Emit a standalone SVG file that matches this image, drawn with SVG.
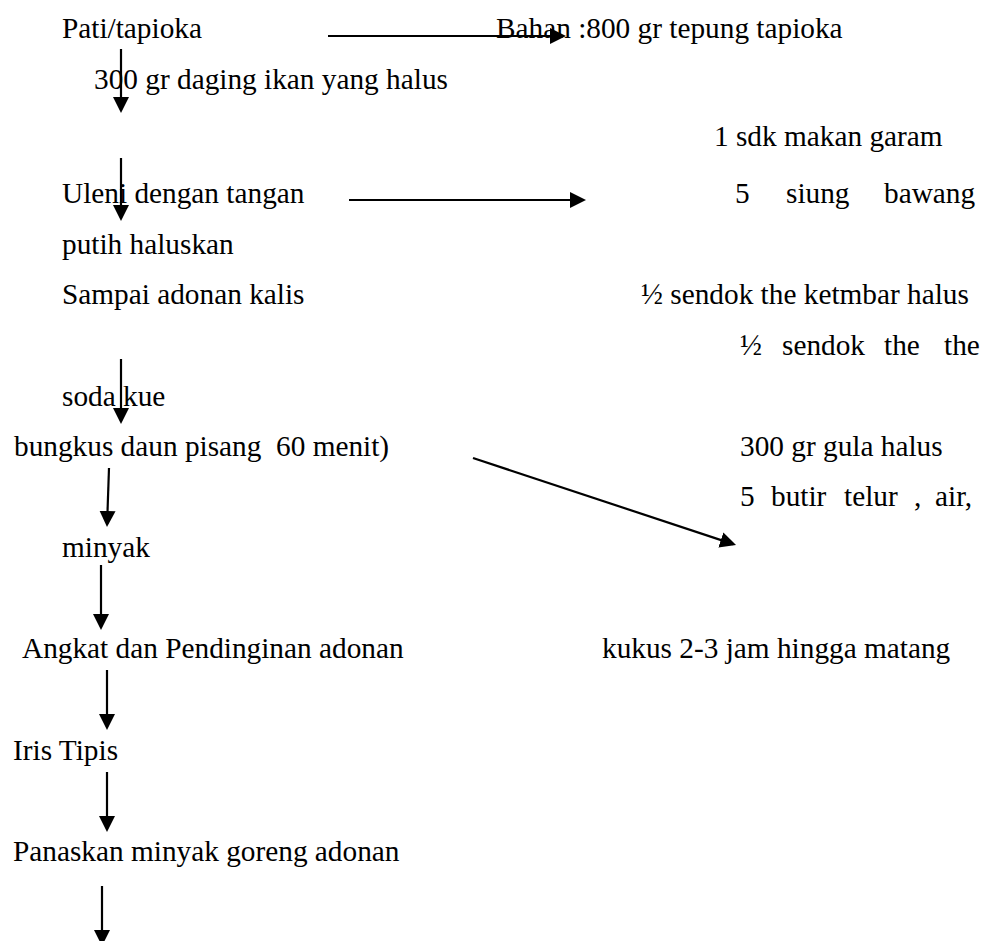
<svg xmlns="http://www.w3.org/2000/svg" width="984" height="941" viewBox="0 0 984 941">
<style>
text{font-family:"Liberation Serif","Times New Roman",serif;font-size:29.3px;fill:#000}
.c{stroke:#000;stroke-width:2.2;fill:none}
</style>
<defs>
<marker id="ah" markerUnits="userSpaceOnUse" markerWidth="17" markerHeight="17" refX="13" refY="8" orient="auto">
<path d="M0,0 L16,8 L0,16 z" fill="#000"/>
</marker>
</defs>
<rect width="984" height="941" fill="#fff"/>
<g id="nodes">
<g id="n-pati"><text x="62" y="38">Pati/tapioka</text></g>
<g id="n-bahan"><text x="496" y="38">Bahan :800 gr tepung tapioka</text></g>
<g id="n-ikan"><text x="94" y="89">300 gr daging ikan yang halus</text></g>
<g id="n-garam"><text x="714" y="146">1 sdk makan garam</text></g>
<g id="n-uleni"><text x="62" y="203">Uleni dengan tangan</text></g>
<g id="n-bawang"><text y="203"><tspan x="735">5</tspan><tspan x="786">siung</tspan><tspan x="884">bawang</tspan></text></g>
<g id="n-putih"><text x="62" y="254">putih haluskan</text></g>
<g id="n-sampai"><text x="62" y="304">Sampai adonan kalis</text></g>
<g id="n-ketumbar"><text x="641" y="304">½ sendok the ketmbar halus</text></g>
<g id="n-thethe"><text y="355"><tspan x="740">½</tspan><tspan x="782">sendok</tspan><tspan x="884">the</tspan><tspan x="944">the</tspan></text></g>
<g id="n-soda"><text x="62" y="406">soda kue</text></g>
<g id="n-bungkus"><text x="14" y="456" xml:space="preserve">bungkus daun pisang  60 menit)</text></g>
<g id="n-gula"><text x="740" y="456">300 gr gula halus</text></g>
<g id="n-telur"><text y="506"><tspan x="740">5</tspan><tspan x="771">butir</tspan><tspan x="844">telur</tspan><tspan x="914">,</tspan><tspan x="935">air,</tspan></text></g>
<g id="n-minyak"><text x="62" y="557">minyak</text></g>
<g id="n-angkat"><text x="22" y="658">Angkat dan Pendinginan adonan</text></g>
<g id="n-kukus"><text x="602" y="658">kukus 2-3 jam hingga matang</text></g>
<g id="n-iris"><text x="13" y="760">Iris Tipis</text></g>
<g id="n-panaskan"><text x="13" y="861">Panaskan minyak goreng adonan</text></g>
</g>
<g id="connectors">
<line class="c" x1="328" y1="36" x2="563" y2="36" marker-end="url(#ah)"/>
<line class="c" x1="121" y1="49" x2="121" y2="110" marker-end="url(#ah)"/>
<line class="c" x1="121" y1="158" x2="121" y2="218" marker-end="url(#ah)"/>
<line class="c" x1="349" y1="200" x2="583" y2="200" marker-end="url(#ah)"/>
<line class="c" x1="121" y1="359" x2="121" y2="421" marker-end="url(#ah)"/>
<line class="c" x1="473" y1="458" x2="733.2" y2="544.1" marker-end="url(#ah)"/>
<line class="c" x1="109" y1="468" x2="107.1" y2="524" marker-end="url(#ah)"/>
<line class="c" x1="101" y1="565" x2="101" y2="627" marker-end="url(#ah)"/>
<line class="c" x1="107" y1="670" x2="107" y2="727" marker-end="url(#ah)"/>
<line class="c" x1="107" y1="772" x2="107" y2="829" marker-end="url(#ah)"/>
<line class="c" x1="102" y1="886" x2="102" y2="943" marker-end="url(#ah)"/>
</g>
</svg>
